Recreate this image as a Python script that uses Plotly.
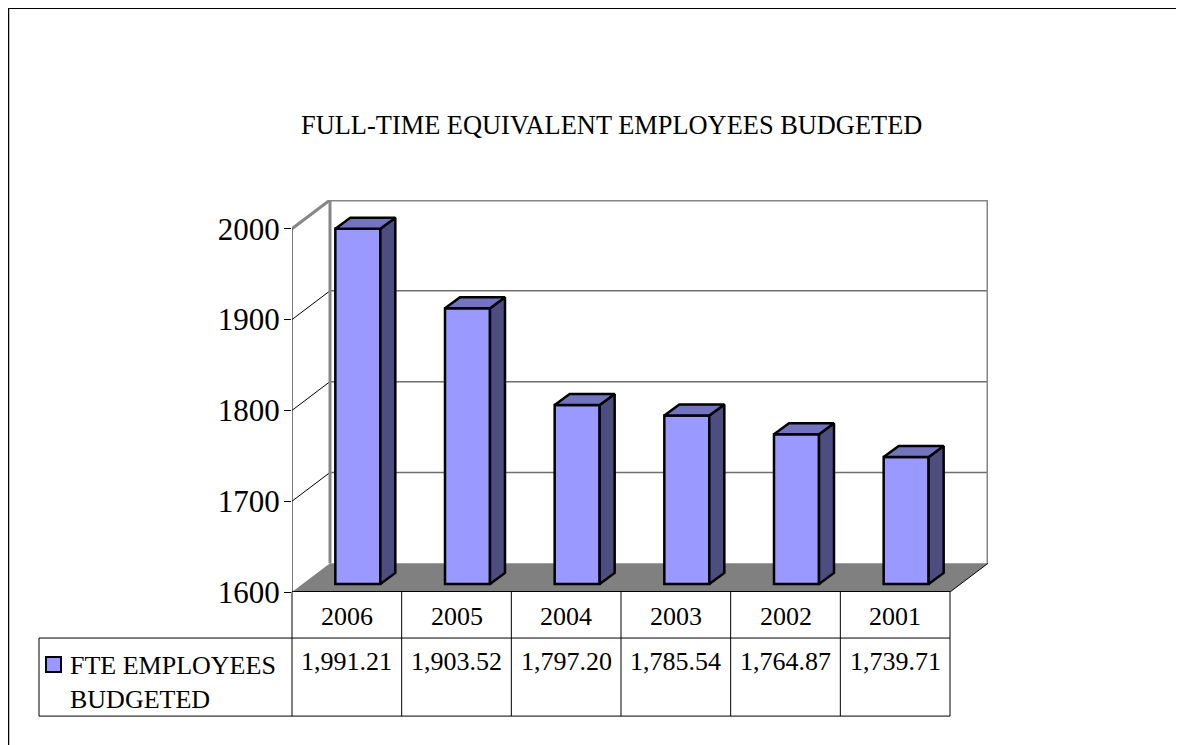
import plotly.graph_objects as go

years = ['2006', '2005', '2004', '2003', '2002', '2001']
fte = [1991.21, 1903.52, 1797.20, 1785.54, 1764.87, 1739.71]
axis_ticks = [1600, 1700, 1800, 1900, 2000]

title = 'FULL-TIME EQUIVALENT EMPLOYEES BUDGETED'
series_name = 'FTE EMPLOYEES<br>BUDGETED'

# page offset of the figure div inside the body
OX, OY = 8, 8
W, H = 1176, 737

# pixel frame of the front of the chart
PX0, PX1 = 292, 950
PY_MIN, PY_MAX = 592, 229
PX_PER_CAT = (PX1 - PX0) / len(years)
PX_PER_VAL = (PY_MIN - PY_MAX) / 400.0
PLOT_R = PX1 + 38
PLOT_T = PY_MAX - 28.7

# depth of the box, in axis units
DEPTH_X = 38 / PX_PER_CAT
DEPTH_Y = 28.7 / PX_PER_VAL
# where the bars sit inside the depth
BAR_X = 11 / PX_PER_CAT
BAR_Y = 8 / PX_PER_VAL
BAR_W = 45 / PX_PER_CAT
BAR_DX = 15 / PX_PER_CAT
BAR_DY = 11 / PX_PER_VAL

BASE = 1600
FRONT = '#9999ff'
TOP = '#7373bf'
SIDE = '#4d4d80'
WALL = '#868686'

n = len(years)
x_max = n + DEPTH_X
y_max = 2000 + DEPTH_Y


def poly(xs, ys, fill, line_color, line_width):
    return go.Scatter(x=xs, y=ys, mode='lines', fill='toself', fillcolor=fill,
                      line=dict(color=line_color, width=line_width),
                      hoverinfo='skip', showlegend=False, cliponaxis=False)


def seg(xs, ys, color, width):
    return go.Scatter(x=xs, y=ys, mode='lines', line=dict(color=color, width=width),
                      hoverinfo='skip', showlegend=False, cliponaxis=False)


shapes = []


def data_path(xs, ys, color, width, fill=None):
    path = 'M ' + ' L '.join(f'{a},{b}' for a, b in zip(xs, ys))
    if fill:
        path += ' Z'
    shapes.append(dict(type='path', xref='x', yref='y', path=path, layer='below',
                       fillcolor=fill or 'rgba(0,0,0,0)',
                       line=dict(color=color, width=width)))


# floor
data_path([0, DEPTH_X, x_max, n], [BASE, BASE + DEPTH_Y, BASE + DEPTH_Y, BASE], '#808080', 0, fill='#808080')

# back wall grid
for t in axis_ticks[1:-1]:
    data_path([0, DEPTH_X], [t, t + DEPTH_Y], '#000000', 1)
    data_path([DEPTH_X, x_max], [t + DEPTH_Y, t + DEPTH_Y], '#6e6e6e', 1.5)
data_path([0, DEPTH_X, x_max, x_max], [2000, y_max, y_max, BASE + DEPTH_Y], WALL, 3)
data_path([DEPTH_X, DEPTH_X], [BASE + DEPTH_Y, y_max], WALL, 3)
data_path([n, x_max], [BASE, BASE + DEPTH_Y], '#000000', 1)

fig = go.Figure()

# bar fronts
fig.add_trace(go.Bar(
    x=[i + 0.5 + BAR_X for i in range(n)],
    y=[v - BASE for v in fte],
    base=BASE + BAR_Y,
    width=BAR_W,
    marker=dict(color=FRONT, line=dict(color='#000000', width=2.5)),
    name=series_name,
    showlegend=False,
))

# bar sides and tops
for i, v in enumerate(fte):
    x0 = i + 0.5 + BAR_X - BAR_W / 2
    x1 = x0 + BAR_W
    b = BASE + BAR_Y
    t = v + BAR_Y
    fig.add_trace(poly([x1, x1 + BAR_DX, x1 + BAR_DX, x1, x1], [b, b + BAR_DY, t + BAR_DY, t, b], SIDE, '#000000', 2.5))
    fig.add_trace(poly([x0, x0 + BAR_DX, x1 + BAR_DX, x1, x0], [t, t + BAR_DY, t + BAR_DY, t, t], TOP, '#000000', 2.5))

# value axis and floor front edge
fig.add_trace(seg([0, 0], [BASE, 2000], '#000000', 1))
fig.add_trace(seg([0, n], [BASE, BASE], '#000000', 2))

# data table under the chart
TBL_Y0, TBL_Y1, TBL_Y2 = 592, 638, 716
TBL_X0 = 39


def paper_x(px):
    return (px - PX0) / (PLOT_R - PX0)


def paper_y(py):
    return (PY_MIN - py) / (PY_MIN - PLOT_T)


def px_line(x0, y0, x1, y1, color='#000000', width=1):
    shapes.append(dict(type='line', xref='paper', yref='paper',
                       x0=paper_x(x0), x1=paper_x(x1),
                       y0=paper_y(y0), y1=paper_y(y1),
                       line=dict(color=color, width=width), layer='above'))


for i in range(n + 1):
    xp = PX0 + i * PX_PER_CAT
    px_line(xp, TBL_Y0, xp, TBL_Y2)
px_line(TBL_X0, TBL_Y1, PX1, TBL_Y1)
px_line(TBL_X0, TBL_Y2, PX1, TBL_Y2)
px_line(TBL_X0, TBL_Y1, TBL_X0, TBL_Y2)

# outer frame
px_line(8, 8.5, 1184, 8.5, width=2)
px_line(8.5, 8, 8.5, 745, width=1.5)

# legend swatch
shapes.append(dict(type='rect', xref='paper', yref='paper',
                   x0=paper_x(46), x1=paper_x(61),
                   y0=paper_y(672), y1=paper_y(657),
                   fillcolor=FRONT, line=dict(color='#000000', width=2)))

annotations = []


def px_text(text, x, y, size=26, xanchor='center', align='center'):
    annotations.append(dict(text=text, xref='paper', yref='paper',
                            x=paper_x(x), y=paper_y(y),
                            xanchor=xanchor, yanchor='middle', align=align, showarrow=False,
                            font=dict(family='Liberation Serif', size=size, color='#000000')))


px_text(title, 611, 125, size=26.4)
px_text(series_name, 68, 682, xanchor='left', align='left')
for i, v in enumerate(fte):
    px_text(f'{v:,.2f}', PX0 + (i + 0.5) * PX_PER_CAT, 661)
    px_text(years[i], PX0 + (i + 0.5) * PX_PER_CAT, 616)

fig.update_layout(
    width=W,
    height=H,
    margin=dict(l=PX0 - OX, r=W - (PLOT_R - OX), t=PLOT_T - OY, b=H - (PY_MIN - OY)),
    paper_bgcolor='white',
    plot_bgcolor='white',
    showlegend=False,
    shapes=shapes,
    annotations=annotations,
    font=dict(family='Liberation Serif', color='#000000'),
    xaxis=dict(range=[0, x_max], showticklabels=False,
               showgrid=False, zeroline=False, showline=False, ticks=''),
    yaxis=dict(range=[BASE, y_max], tickvals=axis_ticks, showgrid=False, zeroline=False,
               showline=False, ticks='outside', ticklen=7, tickcolor='#000000', tickwidth=1,
               ticklabelstandoff=-2, tickformat='d', tickfont=dict(size=31)),
)

fig.write_html("out.html")
